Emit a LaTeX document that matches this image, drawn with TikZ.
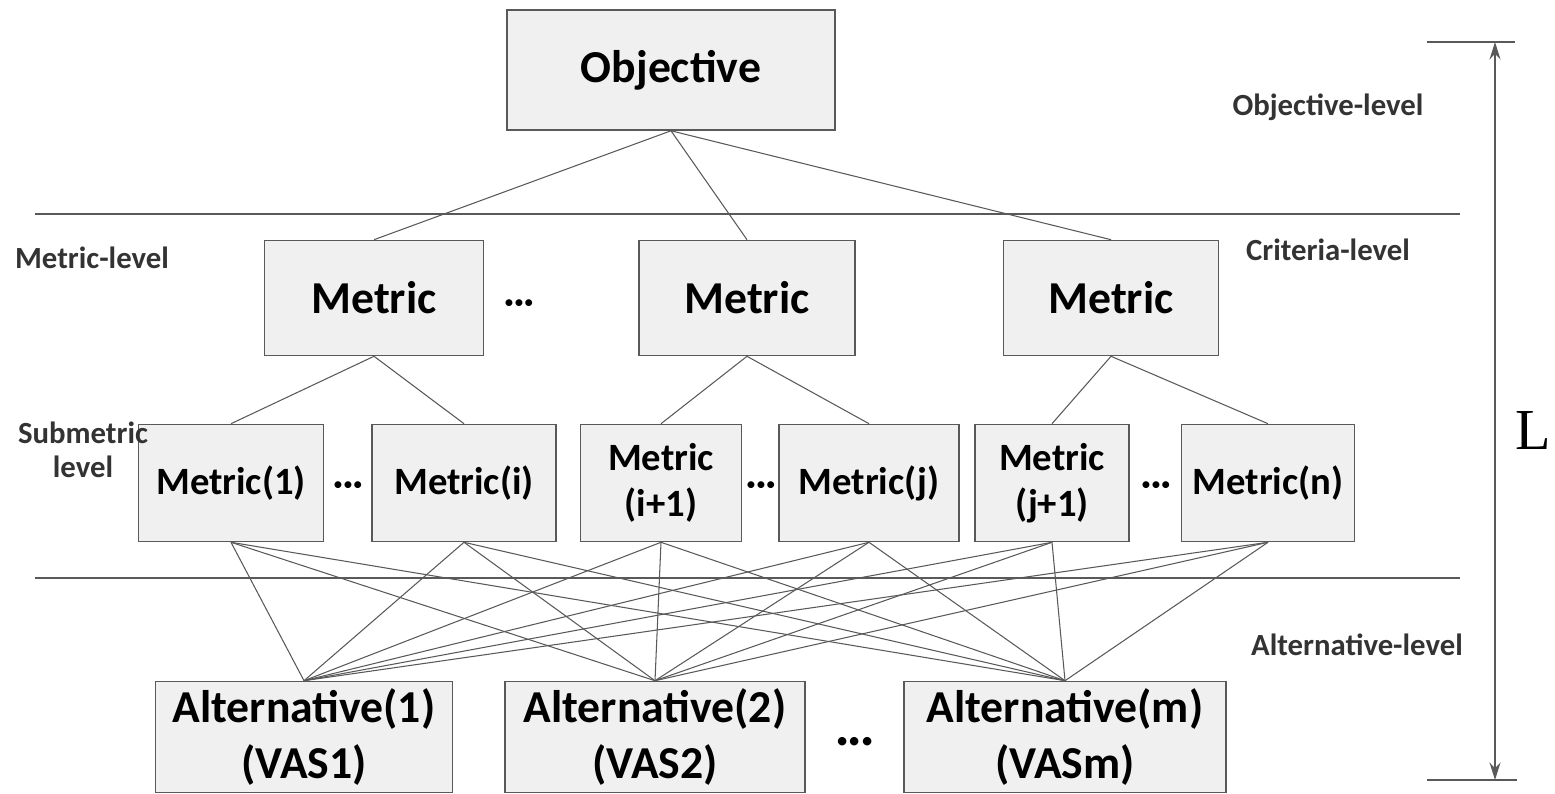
\documentclass[tikz,border=0pt]{standalone}
\usepackage{fontspec}
\setmainfont{Carlito}
\newfontfamily\lfont{Liberation Serif}
\usetikzlibrary{arrows.meta}

\begin{document}
\begin{tikzpicture}[x=0.2mm,y=-0.2mm,
    box/.style={draw=black!65,fill=black!6,line width=0.9pt,inner sep=0pt,align=center,
      font=\bfseries\fontsize{26}{32}\selectfont},
    subbox/.style={box,minimum height=23.4mm,font=\bfseries\fontsize{22}{26}\selectfont},
    lvl/.style={font=\bfseries\fontsize{17.5}{19}\selectfont,text=black!80,align=center},
    link/.style={draw=black!65,line width=0.6pt},
    dots/.style={font=\bfseries\fontsize{21}{24}\selectfont}]

            \useasboundingbox (0,0) rectangle (1555,794);

            % boxes
            \node[box,minimum width=65.6mm,minimum height=24mm] (obj) at (671,70) {Objective};

            \node[box,minimum width=43.8mm,minimum height=23mm] (crit1) at (374,298) {Metric};
            \node[box,minimum width=43.2mm,minimum height=23mm] (crit2) at (747,298) {Metric};
            \node[box,minimum width=43mm,minimum height=23mm] (crit3) at (1111,298) {Metric};

            \node[subbox,minimum width=37mm] (sub1) at (231,483) {Metric(1)};
            \node[subbox,minimum width=36.8mm] (sub2) at (464,483) {Metric(i)};
            \node[subbox,minimum width=32.2mm] (sub3) at (661,483) {Metric\\(i+1)};
            \node[subbox,minimum width=36mm] (sub4) at (869,483) {Metric(j)};
            \node[subbox,minimum width=30.8mm] (sub5) at (1052,483) {Metric\\(j+1)};
            \node[subbox,minimum width=34.6mm] (sub6) at (1268,483) {Metric(n)};

            \node[box,minimum width=59.4mm,minimum height=22.2mm] (alt1) at (304,737) {Alternative(1)\\(VAS1)};
            \node[box,minimum width=60mm,minimum height=22.2mm] (alt2) at (655,737) {Alternative(2)\\(VAS2)};
            \node[box,minimum width=64.4mm,minimum height=22.2mm] (alt3) at (1065,737) {Alternative(m)\\(VASm)};

            % dots
            \node[dots] (d1) at (519,307) {···};
            \node[dots] (d2) at (348,489) {···};
            \node[dots] (d3) at (761,489) {···};
            \node[dots] (d4) at (1156,489) {···};
            \node[dots,font=\bfseries\fontsize{26}{30}\selectfont] (d5) at (855,746) {···};

            % links
            \foreach \c in {crit1,crit2,crit3}
              \draw[link] (obj.south) -- (\c.north);
            \draw[link] (crit1.south) -- (sub1.north);
            \draw[link] (crit1.south) -- (sub2.north);
            \draw[link] (crit2.south) -- (sub3.north);
            \draw[link] (crit2.south) -- (sub4.north);
            \draw[link] (crit3.south) -- (sub5.north);
            \draw[link] (crit3.south) -- (sub6.north);
            \foreach \s in {sub1,sub2,sub3,sub4,sub5,sub6}{
              \foreach \a in {alt1,alt2,alt3}
                \draw[link] (\s.south) -- (\a.north);
            }

            % level lines
            \draw[link,line width=0.9pt] (35,214) -- (1460,214);
            \draw[link,line width=0.9pt] (35,578) -- (1460,578);

            % level labels
            \node[lvl] (lobj) at (1328,107) {Objective-level};
            \node[lvl] (lcrit) at (1328,250) {Criteria-level};
            \node[lvl] (lmet) at (92,258) {Metric-level};
            \node[lvl] (lsub) at (83,450) {Submetric\\level};
            \node[lvl] (lalt) at (1357,645) {Alternative-level};

            % length L
            \coordinate (ttop) at (1495,42);
            \coordinate (tbot) at (1495,780);
            \draw[link,line width=0.9pt] (1427,42) -- (1515,42);
            \draw[link,line width=0.9pt] (1427,780) -- (1517,780);
            \draw[link,line width=0.9pt,{Stealth[length=3.5mm,width=2.2mm]}-{Stealth[length=3.5mm,width=2.2mm]}] (ttop) -- (tbot);
            \node[font=\lfont\fontsize{33}{36}\selectfont] (len) at (1533,431) {L};
        \end{tikzpicture}
\end{document}
